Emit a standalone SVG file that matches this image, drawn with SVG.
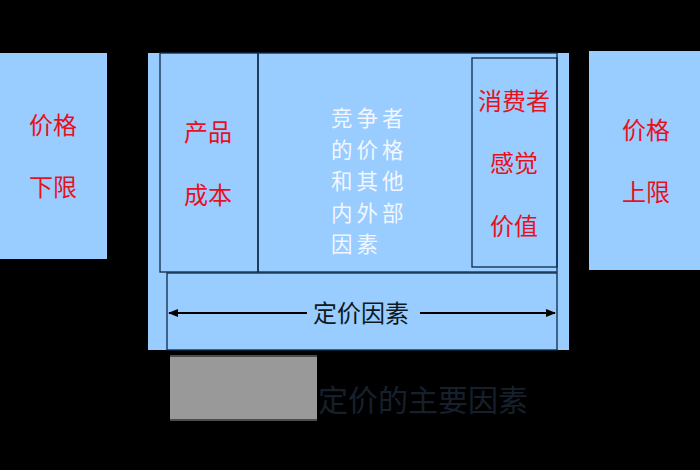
<svg xmlns="http://www.w3.org/2000/svg" width="700" height="470" viewBox="0 0 700 470">
<defs>
<style>
.box{fill:#99ccff;}
.ln{fill:none;stroke:#0f2a45;stroke-width:1.3;}
.red{fill:#e8101c;font-family:"Noto Sans CJK SC","Liberation Sans",sans-serif;font-size:24px;text-anchor:middle;}
.wht{fill:#f2f7ff;font-family:"Noto Sans CJK SC","Liberation Sans",sans-serif;font-size:21.5px;letter-spacing:4px;}
.dk{fill:#101820;font-family:"Noto Sans CJK SC","Liberation Sans",sans-serif;font-size:24px;text-anchor:middle;}
</style>
<marker id="ah" markerWidth="10" markerHeight="8" refX="9" refY="4" orient="auto-start-reverse" markerUnits="userSpaceOnUse">
<path d="M0,0 L10,4 L0,8 Z" fill="#000"/>
</marker>
</defs>
<rect width="700" height="470" fill="#000"/>
<g id="lower">
<rect class="box" x="0" y="53" width="107" height="206"/>
<text class="red" x="53" y="134">价格</text>
<text class="red" x="53" y="196">下限</text>
</g>
<g id="main">
<rect class="box" x="148" y="53" width="421" height="297"/>
</g>
<g id="cost">
<rect class="ln" x="160" y="53" width="98" height="219"/>
<text class="red" x="208" y="141">产品</text>
<text class="red" x="208" y="204">成本</text>
</g>
<g id="competitors">
<rect class="ln" x="258" y="53" width="299" height="219"/>
<text class="wht" x="331" y="126">竞争者<tspan x="331" dy="31.5">的价格</tspan><tspan x="331" dy="31.5">和其他</tspan><tspan x="331" dy="31.5">内外部</tspan><tspan x="331" dy="31.5">因素</tspan></text>
</g>
<g id="value">
<rect class="ln" x="472" y="58" width="85" height="209"/>
<text class="red" x="514" y="110">消费者</text>
<text class="red" x="514" y="172">感觉</text>
<text class="red" x="514" y="235">价值</text>
</g>
<g id="upper">
<rect class="box" x="589" y="51" width="111" height="219"/>
<text class="red" x="646" y="139">价格</text>
<text class="red" x="646" y="201">上限</text>
</g>
<g id="factors">
<rect class="ln" x="167" y="273" width="390" height="77"/>
<text class="dk" x="361" y="322">定价因素</text>
</g>
<g id="connectors">
<line x1="169" y1="313" x2="307" y2="313" stroke="#000" stroke-width="2.2" marker-start="url(#ah)"/>
<line x1="420" y1="313" x2="555" y2="313" stroke="#000" stroke-width="2.2" marker-end="url(#ah)"/>
</g>
<g id="caption">
<rect x="170" y="355" width="147" height="66" fill="#999"/>
<line x1="170" y1="356" x2="317" y2="356" stroke="#333" stroke-width="1.5"/>
<line x1="170" y1="420" x2="317" y2="420" stroke="#333" stroke-width="1.5"/>
<text x="423" y="411" fill="#16202c" font-family="Noto Sans CJK SC, Liberation Sans, sans-serif" font-size="30" text-anchor="middle">定价的主要因素</text>
</g>
</svg>
